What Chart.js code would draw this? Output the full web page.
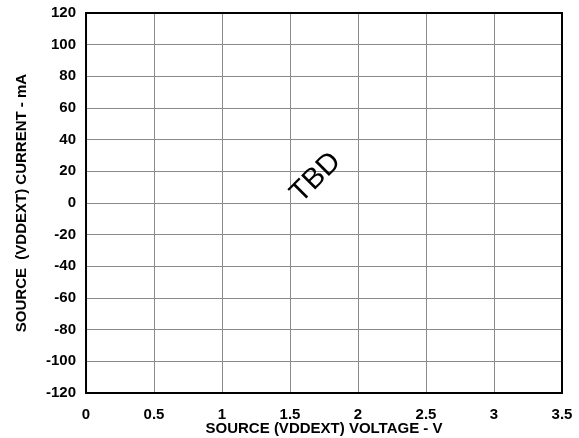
<!DOCTYPE html>
<html>
<head>
<meta charset="utf-8">
<script src="https://cdn.jsdelivr.net/npm/chart.js@4/dist/chart.umd.min.js"></script>
<style>
  html, body { margin: 0; padding: 0; background: #fff; }
  #wrap { width: 579px; height: 438px; }
</style>
</head>
<body>
<div id="wrap"><canvas id="ivChart"></canvas></div>
<script>
// --- Datos del gráfico (sin curva: solo "TBD") ---
const xTicks = [0, 0.5, 1, 1.5, 2, 2.5, 3, 3.5];
const yTicks = [-120, -100, -80, -60, -40, -20, 0, 20, 40, 60, 80, 100, 120];
const seriesPoints = [];           // curva pendiente
const noteText = 'TBD';
const notePos = [1.69, 16];        // posición del texto en unidades de datos

const FONT = "'Liberation Sans', Arial, Helvetica, sans-serif";

// Marco negro y texto "TBD" girado
const framePlugin = {
    id: 'frame',
    afterDraw(chart) {
        const { ctx, chartArea: a, scales } = chart;
        ctx.save();
        ctx.strokeStyle = '#000';
        ctx.lineWidth = 2;
        ctx.strokeRect(a.left, a.top, a.right - a.left, a.bottom - a.top);

        const px = scales.x.getPixelForValue(notePos[0]);
        const py = scales.y.getPixelForValue(notePos[1]);
        ctx.translate(px, py);
        ctx.rotate(-Math.PI / 4);
        ctx.fillStyle = '#000';
        ctx.font = '29px ' + FONT;
        ctx.textAlign = 'center';
        ctx.textBaseline = 'middle';
        ctx.fillText(noteText, 0, 0);
        ctx.restore();
    }
};

const ctx = document.getElementById('ivChart').getContext('2d');
new Chart(ctx, {
    type: 'scatter',
    data: {
        datasets: [{
            data: seriesPoints,
            borderColor: '#000',
            showLine: true
        }]
    },
    options: {
        responsive: true,
        maintainAspectRatio: false,
        animation: false,
        layout: { padding: 0 },
        plugins: { legend: { display: false }, tooltip: { enabled: false } },
        scales: {
            x: {
                type: 'linear',
                min: xTicks[0],
                max: xTicks[xTicks.length - 1],
                afterBuildTicks: (axis) => { axis.ticks = xTicks.map(v => ({ value: v })); },
                afterFit: (axis) => { axis.paddingRight = 17; axis.height = 45; },
                ticks: {
                    color: '#000',
                    font: { family: FONT, size: 15, weight: 'bold' },
                    padding: 13,
                    maxRotation: 0,
                    callback: (v) => String(v)
                },
                grid: { color: '#8a8a8a', lineWidth: 1, drawTicks: false },
                border: { display: false },
                title: {
                    display: true,
                    text: 'SOURCE (VDDEXT) VOLTAGE - V',
                    color: '#000',
                    font: { family: FONT, size: 15, weight: 'bold' },
                    padding: { top: 0, bottom: 0 }
                }
            },
            y: {
                type: 'linear',
                min: yTicks[0],
                max: yTicks[yTicks.length - 1],
                afterBuildTicks: (axis) => { axis.ticks = yTicks.map(v => ({ value: v })); },
                afterFit: (axis) => { axis.paddingTop = 13; axis.paddingBottom = 0; },
                ticks: {
                    color: '#000',
                    font: { family: FONT, size: 15, weight: 'bold' },
                    padding: 10,
                    callback: (v) => String(v)
                },
                grid: { color: '#8a8a8a', lineWidth: 1, drawTicks: false },
                border: { display: false },
                title: {
                    display: true,
                    text: 'SOURCE  (VDDEXT) CURRENT - mA',
                    color: '#000',
                    font: { family: FONT, size: 15, weight: 'bold' },
                    padding: { top: 13, bottom: 5 }
                }
            }
        }
    },
    plugins: [framePlugin]
});
</script>
</body>
</html>
